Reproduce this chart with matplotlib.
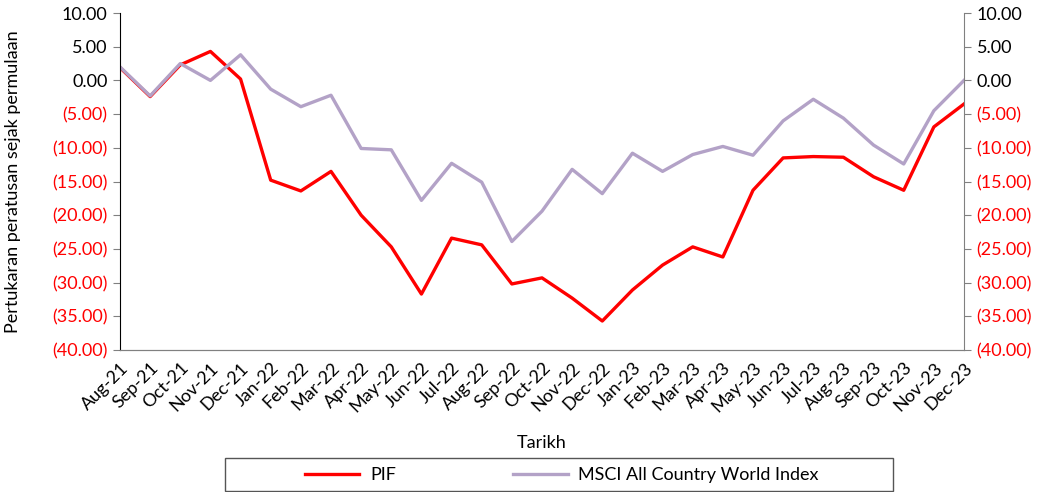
import matplotlib
matplotlib.use("Agg")
import matplotlib.pyplot as plt
from matplotlib.ticker import FixedLocator, FuncFormatter
from matplotlib.patches import Rectangle

plt.rcParams['font.family'] = ['Lato', 'DejaVu Sans']

months = ["Aug-21", "Sep-21", "Oct-21", "Nov-21", "Dec-21", "Jan-22", "Feb-22", "Mar-22",
          "Apr-22", "May-22", "Jun-22", "Jul-22", "Aug-22", "Sep-22", "Oct-22", "Nov-22",
          "Dec-22", "Jan-23", "Feb-23", "Mar-23", "Apr-23", "May-23", "Jun-23", "Jul-23",
          "Aug-23", "Sep-23", "Oct-23", "Nov-23", "Dec-23"]
pif = [1.9, -2.4, 2.3, 4.3, 0.2, -14.8, -16.4, -13.5, -20.0, -24.7, -31.7, -23.4, -24.4,
       -30.2, -29.3, -32.3, -35.7, -31.1, -27.4, -24.7, -26.2, -16.3, -11.5, -11.3, -11.4,
       -14.3, -16.3, -6.9, -3.5]
msci = [2.0, -2.3, 2.5, 0.0, 3.8, -1.3, -3.9, -2.2, -10.1, -10.3, -17.8, -12.3, -15.1,
        -23.9, -19.4, -13.2, -16.8, -10.8, -13.5, -11.0, -9.8, -11.1, -6.0, -2.8, -5.6,
        -9.6, -12.4, -4.5, 0.0]
yticks = [10, 5, 0, -5, -10, -15, -20, -25, -30, -35, -40]

FS = 13

fig = plt.figure(figsize=(10.55, 4.92), dpi=100)
ax = fig.add_axes([120/1055, 1-350/492, (964-120)/1055, (350-13)/492])
x = list(range(len(months)))
ax.plot(x, pif, color="#FF0000", lw=2.4, label="PIF")
ax.plot(x, msci, color="#B3A2C7", lw=2.4, label="MSCI All Country World Index")
ax.set_xlim(0, len(months)-1)
ax.set_ylim(-40, 10)

def fmt(v, pos):
    if v < 0:
        return "({:.2f})".format(-v)
    return "{:.2f}".format(v)

ax2 = ax.twinx()
ax2.set_ylim(-40, 10)
for a in (ax, ax2):
    a.yaxis.set_major_locator(FixedLocator(yticks))
    a.yaxis.set_major_formatter(FuncFormatter(fmt))
    a.tick_params(axis='y', labelsize=FS, length=5, direction='out', color='#808080', pad=4)

fig.canvas.draw()
for a in (ax, ax2):
    for lbl in a.get_yticklabels():
        lbl.set_color("#FF0000" if lbl.get_text().startswith("(") else "black")

ax.set_xticks(x)
ax.set_xticklabels(months, rotation=45, ha="right", rotation_mode="anchor", fontsize=FS)
ax.tick_params(axis='x', length=0, pad=7)

for a in (ax, ax2):
    a.spines['top'].set_visible(False)
    a.spines['bottom'].set_color('#808080')
ax.spines['left'].set_color('black')
ax2.spines['left'].set_visible(False)
ax2.spines['right'].set_color('#808080')
ax.spines['right'].set_visible(False)

ax.set_ylabel("Pertukaran peratusan sejak permulaan", fontsize=FS, labelpad=22)
ax.set_xlabel("Tarikh", fontsize=FS, labelpad=14)

fig.patches.append(Rectangle((225/1055, 1/492), (893-225)/1055, 33/492,
                             transform=fig.transFigure, fill=False,
                             edgecolor="#555555", linewidth=1.0))
leg = fig.legend(loc="center", bbox_to_anchor=(562/1055, 1-475/492),
                 ncol=2, frameon=False, fontsize=FS, handlelength=3.0,
                 columnspacing=6.5, borderaxespad=0, handletextpad=0.6)

fig.savefig("out.png", dpi=100)
